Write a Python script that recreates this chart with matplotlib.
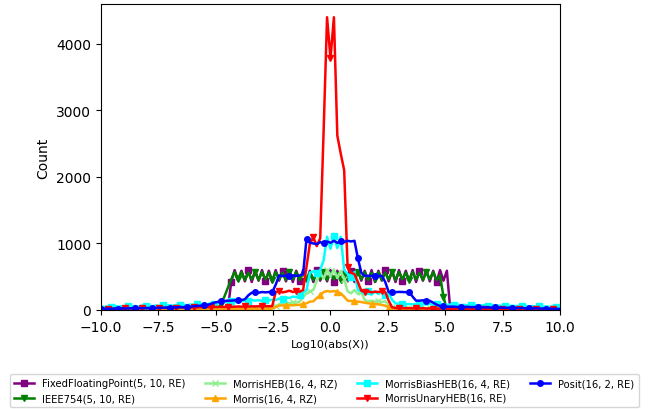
import numpy as np
import matplotlib
matplotlib.use('Agg')
import matplotlib.pyplot as plt

# log10(|x|) bins, 135 punkte von -10 bis 10
x = np.linspace(-10, 10, 135)

fixed_fp = [
    0, 0, 0, 0, 0, 0, 0, 0, 0, 0,
    0, 0, 0, 0, 0, 0, 0, 0, 0, 0,
    0, 0, 0, 0, 0, 0, 0, 0, 0, 0,
    0, 0, 0, 0, 0, 0, 0, 0, 420, 600,
    440, 590, 430, 600, 420, 590, 440, 600, 430, 590,
    420, 600, 440, 590, 430, 600, 420, 590, 440, 600,
    430, 590, 420, 600, 440, 590, 430, 600, 420, 590,
    440, 600, 430, 590, 420, 600, 440, 590, 430, 600,
    420, 590, 440, 600, 430, 590, 420, 600, 440, 590,
    430, 600, 420, 590, 440, 600, 430, 590, 420, 600,
    440, 590, 0, 0, 0, 0, 0, 0, 0, 0,
    0, 0, 0, 0, 0, 0, 0, 0, 0, 0,
    0, 0, 0, 0, 0, 0, 0, 0, 0, 0,
    0, 0, 0, 0, 0,
]
ieee754 = [
    0, 0, 0, 0, 0, 0, 0, 0, 0, 0,
    0, 0, 0, 0, 0, 0, 0, 0, 0, 0,
    0, 0, 0, 0, 0, 0, 0, 0, 0, 0,
    0, 0, 0, 0, 15, 90, 200, 330, 460, 570,
    460, 570, 450, 560, 460, 570, 450, 570, 460, 560,
    450, 570, 460, 560, 450, 570, 460, 570, 450, 560,
    460, 570, 450, 560, 460, 570, 450, 570, 460, 560,
    450, 570, 460, 560, 450, 570, 460, 570, 450, 560,
    460, 570, 450, 560, 460, 570, 450, 570, 460, 560,
    450, 570, 460, 560, 450, 570, 460, 570, 450, 520,
    200, 0, 0, 0, 0, 0, 0, 0, 0, 0,
    0, 0, 0, 0, 0, 0, 0, 0, 0, 0,
    0, 0, 0, 0, 0, 0, 0, 0, 0, 0,
    0, 0, 0, 0, 0,
]
morris_heb = [
    5, 6, 5, 7, 6, 8, 7, 8, 9, 8,
    9, 10, 9, 11, 10, 12, 11, 12, 13, 12,
    13, 14, 13, 15, 14, 16, 15, 17, 16, 18,
    17, 19, 18, 20, 19, 22, 20, 24, 22, 25,
    26, 28, 27, 30, 29, 32, 31, 34, 33, 36,
    40, 55, 85, 100, 110, 105, 115, 110, 125, 190,
    250, 280, 300, 440, 560, 470, 600, 500, 610, 480,
    590, 460, 280, 250, 300, 240, 270, 150, 130, 140,
    125, 135, 120, 130, 75, 45, 40, 38, 36, 34,
    33, 31, 30, 28, 27, 26, 25, 24, 22, 21,
    20, 19, 18, 17, 17, 16, 15, 15, 14, 13,
    13, 12, 12, 11, 11, 10, 10, 9, 9, 9,
    8, 8, 8, 7, 7, 7, 6, 6, 6, 5,
    5, 5, 4, 4, 4,
]
morris = [
    2, 2, 3, 2, 3, 3, 4, 3, 4, 4,
    4, 5, 4, 5, 5, 6, 5, 6, 6, 7,
    6, 7, 7, 8, 7, 8, 8, 9, 9, 10,
    10, 11, 10, 12, 11, 12, 12, 13, 13, 14,
    14, 15, 15, 16, 16, 17, 17, 18, 18, 20,
    22, 45, 65, 70, 68, 72, 70, 75, 78, 90,
    100, 125, 130, 180, 220, 270, 285, 275, 285, 270,
    250, 200, 140, 135, 130, 125, 120, 110, 100, 95,
    90, 85, 75, 65, 40, 25, 20, 18, 16, 15,
    14, 13, 12, 11, 10, 10, 9, 9, 8, 8,
    7, 7, 7, 6, 6, 6, 5, 5, 5, 5,
    4, 4, 4, 4, 4, 3, 3, 3, 3, 3,
    3, 3, 2, 2, 2, 2, 2, 2, 2, 2,
    1, 1, 1, 1, 1,
]
morris_bias_heb = [
    50, 45, 55, 48, 60, 50, 58, 52, 62, 55,
    60, 52, 65, 55, 62, 58, 68, 60, 70, 62,
    72, 65, 75, 68, 78, 70, 82, 75, 88, 80,
    92, 85, 100, 95, 110, 105, 120, 115, 130, 125,
    140, 130, 145, 135, 150, 140, 148, 138, 150, 142,
    155, 150, 170, 165, 185, 180, 200, 195, 220, 260,
    300, 560, 580, 560, 600, 750, 1100, 920, 1110, 930,
    1100, 600, 540, 500, 570, 300, 280, 240, 280, 230,
    280, 240, 270, 230, 260, 150, 100, 90, 95, 85,
    90, 85, 92, 80, 88, 82, 90, 78, 85, 80,
    84, 76, 82, 74, 80, 72, 78, 70, 76, 70,
    74, 68, 72, 66, 70, 64, 68, 62, 66, 60,
    64, 58, 62, 56, 60, 55, 58, 52, 56, 50,
    54, 48, 52, 46, 50,
]
morris_unary_heb = [
    15, 18, 16, 20, 18, 22, 20, 24, 22, 25,
    24, 26, 25, 28, 26, 30, 28, 30, 32, 30,
    32, 34, 33, 36, 35, 38, 36, 40, 38, 42,
    40, 44, 42, 46, 45, 48, 46, 50, 48, 50,
    52, 50, 54, 52, 55, 53, 56, 54, 58, 56,
    60, 270, 280, 265, 275, 290, 270, 285, 275, 300,
    650, 1000, 1090, 960, 1080, 2700, 4400, 3780, 4400, 2620,
    2350, 2100, 640, 560, 540, 420, 290, 270, 280, 265,
    275, 270, 280, 270, 140, 40, 30, 28, 30, 26,
    28, 25, 27, 24, 26, 22, 24, 22, 20, 22,
    20, 18, 20, 18, 20, 17, 18, 16, 18, 16,
    17, 15, 16, 15, 16, 14, 15, 14, 15, 13,
    14, 13, 14, 12, 13, 12, 13, 12, 12, 11,
    12, 11, 11, 10, 10,
]
posit = [
    15, 18, 20, 18, 22, 20, 25, 22, 24, 26,
    25, 28, 26, 30, 28, 32, 30, 35, 32, 38,
    35, 40, 38, 45, 42, 50, 48, 55, 60, 65,
    70, 75, 90, 110, 120, 130, 135, 140, 140, 145,
    150, 150, 160, 220, 260, 265, 260, 270, 265, 270,
    268, 380, 520, 510, 515, 510, 520, 512, 518, 540,
    1070, 1010, 1000, 990, 1020, 1000, 1030, 1010, 1040, 1010,
    1030, 1020, 1040, 1030, 1040, 780, 560, 510, 515, 510,
    512, 510, 515, 420, 270, 270, 268, 272, 270, 268,
    270, 200, 140, 140, 145, 140, 138, 110, 80, 60,
    55, 50, 48, 50, 45, 48, 44, 46, 42, 44,
    40, 42, 38, 40, 36, 38, 35, 36, 32, 34,
    30, 32, 28, 30, 26, 28, 24, 25, 22, 22,
    20, 20, 18, 18, 16,
]

series = [
    ('FixedFloatingPoint(5, 10, RE)', fixed_fp, 'purple', 's', 3),
    ('IEEE754(5, 10, RE)', ieee754, 'green', 'v', 0),
    ('MorrisHEB(16, 4, RZ)', morris_heb, 'lightgreen', 'x', 1),
    ('Morris(16, 4, RZ)', morris, 'orange', '^', 4),
    ('MorrisBiasHEB(16, 4, RE)', morris_bias_heb, 'cyan', 's', 3),
    ('MorrisUnaryHEB(16, RE)', morris_unary_heb, 'red', 'v', 2),
    ('Posit(16, 2, RE)', posit, 'blue', 'o', 0),
]

fig = plt.figure(figsize=(6.48, 4.10), dpi=100)
ax = fig.add_axes([0.156, 0.2415, 0.708, 0.7465])

for label, vals, color, marker, off in series:
    ax.plot(x, vals, color=color, marker=marker, markersize=4, linewidth=1.8,
            markevery=(off, 5), label=label)

ax.set_xlim(-10, 10)
ax.set_ylim(0, 4600)
ax.set_xlabel('Log10(abs(X))', fontsize=8)
ax.set_ylabel('Count')

# legende unten, fast so breit wie die figur
fig.legend(loc='upper center', bbox_to_anchor=(0.5, 0.085), ncol=4, fontsize=7.2,
           columnspacing=2.0, borderaxespad=0)

fig.savefig('out.png', dpi=100)
